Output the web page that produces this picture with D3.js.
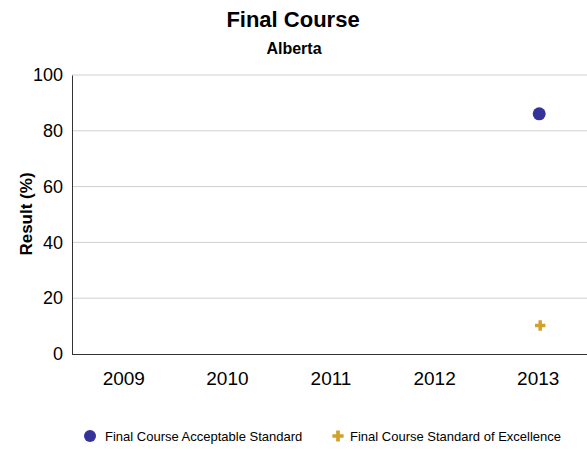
<!DOCTYPE html>
<html><head><meta charset="utf-8">
<script src="https://cdn.jsdelivr.net/npm/d3@7"></script>
<style>body{margin:0;background:#fff;font-family:"Liberation Sans",Arial,sans-serif;}</style>
</head><body><div id="chart"></div>
<script>
const categories = ["2009","2010","2011","2012","2013"];
const acceptable = [null,null,null,null,86.1];
const excellence = [null,null,null,null,10.2];
const yTicks = [0,20,40,60,80,100];
const seriesNames = ["Final Course Acceptable Standard","Final Course Standard of Excellence"];

(function(){
const W=587,H=450;
const svg=d3.select("#chart").append("svg").attr("width",W).attr("height",H);
const mLeft=72,mRight=590,mTop=75,mBottom=354;
const x=d3.scaleBand().domain(categories).range([mLeft,mRight]);
const y=d3.scaleLinear().domain([0,100]).range([mBottom,mTop]);

svg.append("text").attr("x",293).attr("y",27).attr("text-anchor","middle")
  .attr("font-size",22).attr("font-weight","bold").text("Final Course");
svg.append("text").attr("x",294).attr("y",54).attr("text-anchor","middle")
  .attr("font-size",16).attr("font-weight","bold").text("Alberta");

svg.append("g").selectAll("line").data(yTicks.filter(d=>d>0)).join("line")
  .attr("x1",mLeft).attr("x2",W).attr("y1",d=>y(d)).attr("y2",d=>y(d))
  .attr("stroke","#d0d0d0").attr("stroke-width",1);

const ya=svg.append("g").attr("transform",`translate(${mLeft},0)`)
  .call(d3.axisLeft(y).tickValues(yTicks).tickSize(0).tickPadding(9));
ya.select(".domain").attr("stroke","#333");
ya.selectAll("text").attr("font-size",18).attr("font-family","Liberation Sans, Arial, sans-serif").attr("fill","#000");

const xa=svg.append("g").attr("transform",`translate(0,${mBottom})`)
  .call(d3.axisBottom(x).tickSize(0).tickPadding(18));
xa.select(".domain").attr("stroke","#333").attr("d",`M${mLeft},0.5H${W}`);
xa.selectAll("text").attr("font-size",19).attr("font-family","Liberation Sans, Arial, sans-serif").attr("fill","#000");

svg.append("text").attr("transform","translate(32,214) rotate(-90)").attr("text-anchor","middle")
  .attr("font-size",17).attr("font-weight","bold").text("Result (%)");

const plus=d3.symbol().type(d3.symbolCross).size(60);
svg.append("g").selectAll("circle").data(categories.map((c,i)=>({c,v:acceptable[i]})).filter(d=>d.v!=null))
  .join("circle").attr("cx",d=>x(d.c)+x.bandwidth()/2+1).attr("cy",d=>y(d.v)).attr("r",6.5).attr("fill","#333399");
svg.append("g").selectAll("path").data(categories.map((c,i)=>({c,v:excellence[i]})).filter(d=>d.v!=null))
  .join("path").attr("d",plus).attr("transform",d=>`translate(${x(d.c)+x.bandwidth()/2+2},${y(d.v)})`).attr("fill","#d4a02c");

const lg=svg.append("g");
lg.append("circle").attr("cx",90).attr("cy",436).attr("r",6).attr("fill","#333399");
lg.append("text").attr("x",105).attr("y",441).attr("font-size",13).text(seriesNames[0]);
lg.append("path").attr("d",d3.symbol().type(d3.symbolCross).size(70)).attr("transform","translate(338,436)").attr("fill","#d4a02c");
lg.append("text").attr("x",350).attr("y",441).attr("font-size",13).text(seriesNames[1]);
})();
</script></body></html>
